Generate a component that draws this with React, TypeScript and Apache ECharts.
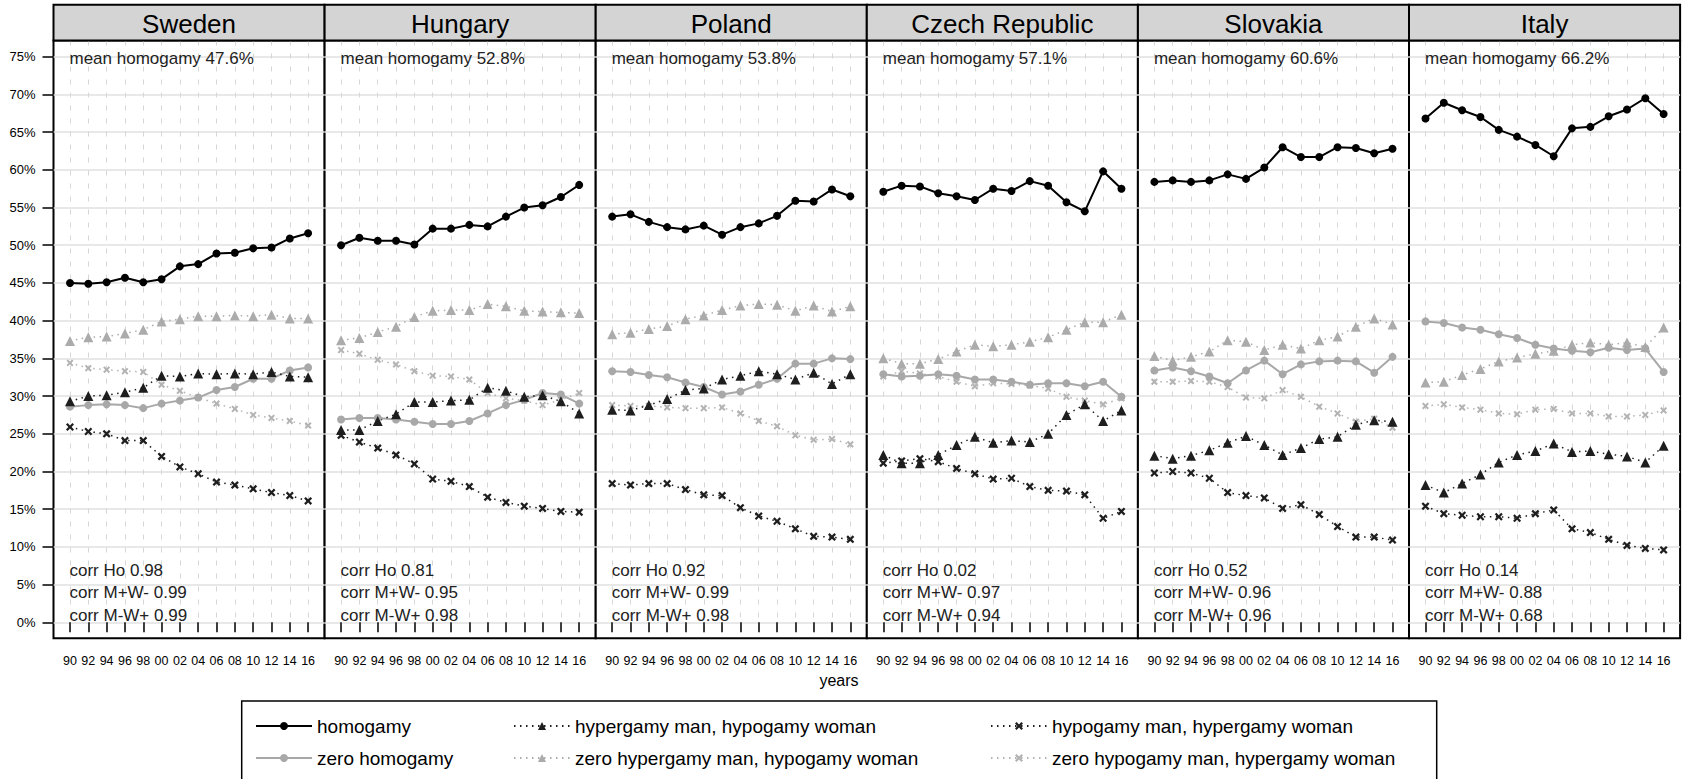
import React, { useEffect, useRef } from "react";
import * as echarts from "echarts";

const years = [1990, 1992, 1994, 1996, 1998, 2000, 2002, 2004, 2006, 2008, 2010, 2012, 2014, 2016];
const yearLabels = ["90", "92", "94", "96", "98", "00", "02", "04", "06", "08", "10", "12", "14", "16"];
const yTicks = [0, 5, 10, 15, 20, 25, 30, 35, 40, 45, 50, 55, 60, 65, 70, 75];

const countries = ["Sweden", "Hungary", "Poland", "Czech Republic", "Slovakia", "Italy"];
const meanHomogamy = ["47.6", "52.8", "53.8", "57.1", "60.6", "66.2"];
const corrHo = ["0.98", "0.81", "0.92", "0.02", "0.52", "0.14"];
const corrMplusWminus = ["0.99", "0.95", "0.99", "0.97", "0.96", "0.88"];
const corrMminusWplus = ["0.99", "0.98", "0.98", "0.94", "0.96", "0.68"];

// one row per country, in the order of `countries`
const homogamy = [
  [45.0, 44.9, 45.1, 45.7, 45.1, 45.5, 47.2, 47.5, 48.9, 49.0, 49.6, 49.7, 50.9, 51.6],
  [50.0, 51.0, 50.6, 50.6, 50.1, 52.2, 52.2, 52.7, 52.5, 53.8, 55.0, 55.3, 56.4, 58.0],
  [53.8, 54.1, 53.1, 52.4, 52.1, 52.6, 51.4, 52.4, 52.9, 53.9, 55.9, 55.8, 57.4, 56.5],
  [57.1, 57.9, 57.8, 56.9, 56.5, 56.0, 57.5, 57.2, 58.5, 57.9, 55.7, 54.5, 59.8, 57.5],
  [58.4, 58.6, 58.4, 58.6, 59.4, 58.8, 60.3, 63.0, 61.7, 61.7, 63.0, 62.9, 62.2, 62.8],
  [66.8, 68.9, 67.9, 67.0, 65.3, 64.4, 63.3, 61.8, 65.5, 65.7, 67.1, 68.0, 69.5, 67.4],
];
const hypergamyMan = [
  [29.3, 30.0, 30.1, 30.5, 31.1, 32.7, 32.6, 33.0, 32.9, 33.0, 32.9, 33.2, 32.6, 32.5],
  [25.5, 25.5, 26.7, 27.6, 29.2, 29.2, 29.4, 29.5, 31.1, 30.7, 29.9, 30.1, 29.3, 27.7],
  [28.2, 28.1, 28.8, 29.6, 30.8, 31.0, 32.2, 32.7, 33.3, 32.9, 32.2, 33.1, 31.6, 32.9],
  [22.2, 21.1, 21.1, 22.2, 23.5, 24.6, 23.8, 24.1, 23.9, 25.0, 27.5, 28.9, 26.7, 28.1],
  [22.1, 21.7, 22.1, 22.8, 23.8, 24.7, 23.5, 22.2, 23.1, 24.3, 24.6, 26.2, 26.8, 26.6],
  [18.2, 17.2, 18.4, 19.6, 21.2, 22.2, 22.7, 23.7, 22.6, 22.7, 22.3, 22.0, 21.2, 23.4],
];
const hypogamyMan = [
  [25.9, 25.3, 25.0, 24.1, 24.1, 22.0, 20.6, 19.7, 18.6, 18.2, 17.7, 17.2, 16.8, 16.1],
  [24.8, 23.9, 23.1, 22.2, 21.0, 19.0, 18.7, 18.0, 16.6, 15.9, 15.4, 15.1, 14.7, 14.6],
  [18.4, 18.2, 18.4, 18.4, 17.6, 16.9, 16.8, 15.2, 14.1, 13.4, 12.4, 11.4, 11.3, 11.0],
  [21.1, 21.4, 21.7, 21.3, 20.4, 19.7, 19.0, 19.1, 18.0, 17.5, 17.4, 16.9, 13.8, 14.7],
  [19.8, 20.0, 19.8, 19.1, 17.2, 16.8, 16.5, 15.1, 15.6, 14.3, 12.7, 11.3, 11.3, 10.9],
  [15.4, 14.4, 14.2, 14.0, 14.0, 13.8, 14.4, 14.9, 12.4, 11.9, 11.0, 10.2, 9.8, 9.6],
];
const zeroHomogamy = [
  [28.6, 28.8, 28.9, 28.8, 28.4, 29.0, 29.4, 29.8, 30.8, 31.2, 32.3, 32.3, 33.4, 33.8],
  [26.9, 27.1, 27.1, 26.9, 26.6, 26.3, 26.3, 26.7, 27.7, 28.8, 29.5, 30.4, 30.2, 29.0],
  [33.3, 33.2, 32.8, 32.5, 31.8, 31.2, 30.2, 30.6, 31.5, 32.3, 34.3, 34.3, 35.0, 34.9],
  [32.9, 32.6, 32.7, 32.9, 32.7, 32.2, 32.2, 31.9, 31.5, 31.7, 31.7, 31.3, 31.9, 29.9],
  [33.4, 33.8, 33.3, 32.6, 31.7, 33.4, 34.7, 32.9, 34.2, 34.6, 34.7, 34.6, 33.1, 35.2],
  [39.9, 39.7, 39.1, 38.8, 38.2, 37.7, 36.8, 36.3, 36.0, 35.8, 36.4, 36.1, 36.3, 33.2],
];
const zeroHypergamyMan = [
  [37.3, 37.8, 37.9, 38.3, 38.8, 39.9, 40.2, 40.6, 40.6, 40.7, 40.6, 40.8, 40.3, 40.3],
  [37.4, 37.7, 38.5, 39.2, 40.5, 41.3, 41.4, 41.4, 42.2, 41.9, 41.3, 41.2, 41.1, 41.0],
  [38.2, 38.4, 38.9, 39.3, 40.2, 40.7, 41.4, 42.0, 42.2, 42.1, 41.3, 42.0, 41.2, 41.9],
  [35.0, 34.3, 34.3, 34.9, 35.9, 36.8, 36.6, 36.8, 37.2, 37.8, 38.8, 39.8, 39.8, 40.8],
  [35.3, 34.7, 35.2, 35.9, 37.4, 37.2, 36.1, 36.8, 36.3, 37.4, 37.9, 39.2, 40.3, 39.5],
  [31.8, 31.9, 32.8, 33.6, 34.6, 35.1, 35.6, 36.0, 36.8, 37.1, 36.8, 37.1, 36.5, 39.1],
];
const zeroHypogamyMan = [
  [34.4, 33.7, 33.5, 33.3, 33.2, 31.5, 30.7, 29.8, 29.0, 28.3, 27.5, 27.1, 26.7, 26.1],
  [36.1, 35.6, 34.8, 34.2, 33.3, 32.7, 32.6, 32.2, 30.4, 29.7, 29.4, 28.8, 29.5, 30.4],
  [28.8, 28.7, 28.7, 28.5, 28.4, 28.4, 28.5, 27.7, 26.7, 26.0, 24.8, 24.2, 24.3, 23.6],
  [32.6, 33.3, 33.0, 32.6, 31.9, 31.3, 31.7, 31.6, 31.4, 31.0, 29.9, 29.4, 28.9, 29.7],
  [31.9, 31.9, 32.0, 31.9, 31.2, 29.8, 29.7, 30.8, 29.9, 28.6, 27.7, 26.6, 27.0, 25.8],
  [28.7, 28.9, 28.5, 28.2, 27.7, 27.6, 28.2, 28.3, 27.7, 27.7, 27.3, 27.3, 27.5, 28.1],
];

const FONT = "'Liberation Sans', Arial, Helvetica, sans-serif";
const X_SYMBOL = "path://M2,0 L5,3 L8,0 L10,2 L7,5 L10,8 L8,10 L5,7 L2,10 L0,8 L3,5 L0,2 Z";
const DOTTED = [1.5, 4.5];

// layout (pixels)
const PLOT_LEFT = 53.5;
const PANEL_W = 271.1;
const PLOT_TOP = 40.5;
const PLOT_H = 597.8;
const STRIP_TOP = 4.7;

const seriesDefs = [
  { name: "zero hypogamy man, hypergamy woman", rows: zeroHypogamyMan, color: "#b3b3b3", symbol: X_SYMBOL, size: 7, dotted: true },
  { name: "zero hypergamy man, hypogamy woman", rows: zeroHypergamyMan, color: "#ababab", symbol: "triangle", size: 10, dotted: true },
  { name: "zero homogamy", rows: zeroHomogamy, color: "#a8a8a8", symbol: "circle", size: 8, dotted: false },
  { name: "hypogamy man, hypergamy woman", rows: hypogamyMan, color: "#1e1e1e", symbol: X_SYMBOL, size: 8, dotted: true },
  { name: "hypergamy man, hypogamy woman", rows: hypergamyMan, color: "#1e1e1e", symbol: "triangle", size: 10, dotted: true },
  { name: "homogamy", rows: homogamy, color: "#000000", symbol: "circle", size: 8, dotted: false },
];

function buildOption() {
  const grid: any[] = [];
  const xAxis: any[] = [];
  const yAxis: any[] = [];
  const series: any[] = [];
  const graphic: any[] = [];

  countries.forEach((country, i) => {
    const left = PLOT_LEFT + i * PANEL_W;
    grid.push({
      left,
      top: PLOT_TOP,
      width: PANEL_W,
      height: PLOT_H,
      show: true,
      borderColor: "#000",
      borderWidth: 2,
      backgroundColor: "#fff",
    });
    xAxis.push({
      type: "value",
      gridIndex: i,
      min: 1988.2,
      max: 2017.8,
      axisLine: { show: false },
      axisTick: { show: true, customValues: years, length: 10, lineStyle: { color: "#000", width: 1.5 } },
      axisLabel: {
        show: true,
        customValues: years,
        margin: 16,
        fontSize: 12.5,
        color: "#000",
        fontFamily: FONT,
        formatter: (v: number) => {
          const k = years.indexOf(Math.round(v));
          return k >= 0 ? yearLabels[k] : "";
        },
      },
      splitLine: { show: true, lineStyle: { color: "#d6d6d6", width: 1, type: [5, 8] } },
    });
    yAxis.push({
      type: "value",
      gridIndex: i,
      min: -2.12,
      max: 77.15,
      axisLine: { show: false },
      axisTick: { show: i === 0, customValues: yTicks, length: 11, lineStyle: { color: "#000", width: 1.5 } },
      axisLabel: {
        show: i === 0,
        customValues: yTicks,
        margin: 18,
        fontSize: 13,
        color: "#000",
        fontFamily: FONT,
        formatter: (v: number) => `${v}%`,
      },
      splitLine: { show: true, lineStyle: { color: "#e0e0e0", width: 1.5, type: "solid" } },
    });

    seriesDefs.forEach((d) => {
      series.push({
        name: d.name,
        type: "line",
        xAxisIndex: i,
        yAxisIndex: i,
        data: years.map((yr, k) => [yr, d.rows[i][k]]),
        symbol: d.symbol,
        symbolSize: d.size,
        showAllSymbol: true,
        color: d.color,
        itemStyle: { color: d.color },
        lineStyle: d.dotted
          ? { color: d.color, width: 1.5, type: DOTTED }
          : { color: d.color, width: 2, type: "solid" },
        emphasis: { disabled: true },
        silent: true,
      });
    });

    // strip header
    graphic.push({
      type: "rect",
      shape: { x: left, y: STRIP_TOP, width: PANEL_W, height: PLOT_TOP - STRIP_TOP },
      style: { fill: "#d4d4d4", stroke: "#000", lineWidth: 2 },
      z: 10,
    });
    graphic.push({
      type: "text",
      x: left + PANEL_W / 2,
      y: (STRIP_TOP + PLOT_TOP) / 2 + 1,
      style: { text: country, fontSize: 26, fontFamily: FONT, fill: "#000", align: "center", verticalAlign: "middle" },
      z: 11,
    });
    // annotations
    graphic.push({
      type: "text",
      x: left + 16,
      y: 58,
      style: { text: `mean homogamy ${meanHomogamy[i]}%`, fontSize: 17, fontFamily: FONT, fill: "#222", verticalAlign: "middle" },
      z: 11,
    });
    const corrLines = [`corr Ho ${corrHo[i]}`, `corr M+W- ${corrMplusWminus[i]}`, `corr M-W+ ${corrMminusWplus[i]}`];
    corrLines.forEach((t, k) => {
      graphic.push({
        type: "text",
        x: left + 16,
        y: 570.7 + k * 22.2,
        style: { text: t, fontSize: 17, fontFamily: FONT, fill: "#222", verticalAlign: "middle" },
        z: 11,
      });
    });
  });

  graphic.push({
    type: "text",
    x: 839,
    y: 680,
    style: { text: "years", fontSize: 16, fontFamily: FONT, fill: "#000", align: "center", verticalAlign: "middle" },
  });
  graphic.push({
    type: "rect",
    shape: { x: 241.7, y: 701, width: 1195, height: 110 },
    style: { fill: "none", stroke: "#000", lineWidth: 1.5 },
  });

  const legendBase = {
    orient: "vertical",
    top: 716,
    itemWidth: 56,
    itemHeight: 10,
    itemGap: 12,
    padding: 0,
    selectedMode: false,
    textStyle: { fontSize: 19, lineHeight: 20, color: "#000", fontFamily: FONT },
  };
  const legend = [
    { ...legendBase, left: 255, data: ["homogamy", "zero homogamy"] },
    { ...legendBase, left: 513, data: ["hypergamy man, hypogamy woman", "zero hypergamy man, hypogamy woman"] },
    { ...legendBase, left: 990, data: ["hypogamy man, hypergamy woman", "zero hypogamy man, hypergamy woman"] },
  ];

  return {
    animation: false,
    backgroundColor: "#fff",
    grid,
    xAxis,
    yAxis,
    series,
    legend,
    graphic,
  };
}

export default function App() {
  const ref = useRef<HTMLDivElement>(null);
  useEffect(() => {
    if (!ref.current) return;
    const chart = echarts.init(ref.current, undefined, { renderer: "svg" });
    chart.setOption(buildOption() as any);
    return () => chart.dispose();
  }, []);
  return (
    <div
      ref={ref}
      style={{ position: "fixed", left: 0, top: 0, width: 1684, height: 779, background: "#fff" }}
    />
  );
}
